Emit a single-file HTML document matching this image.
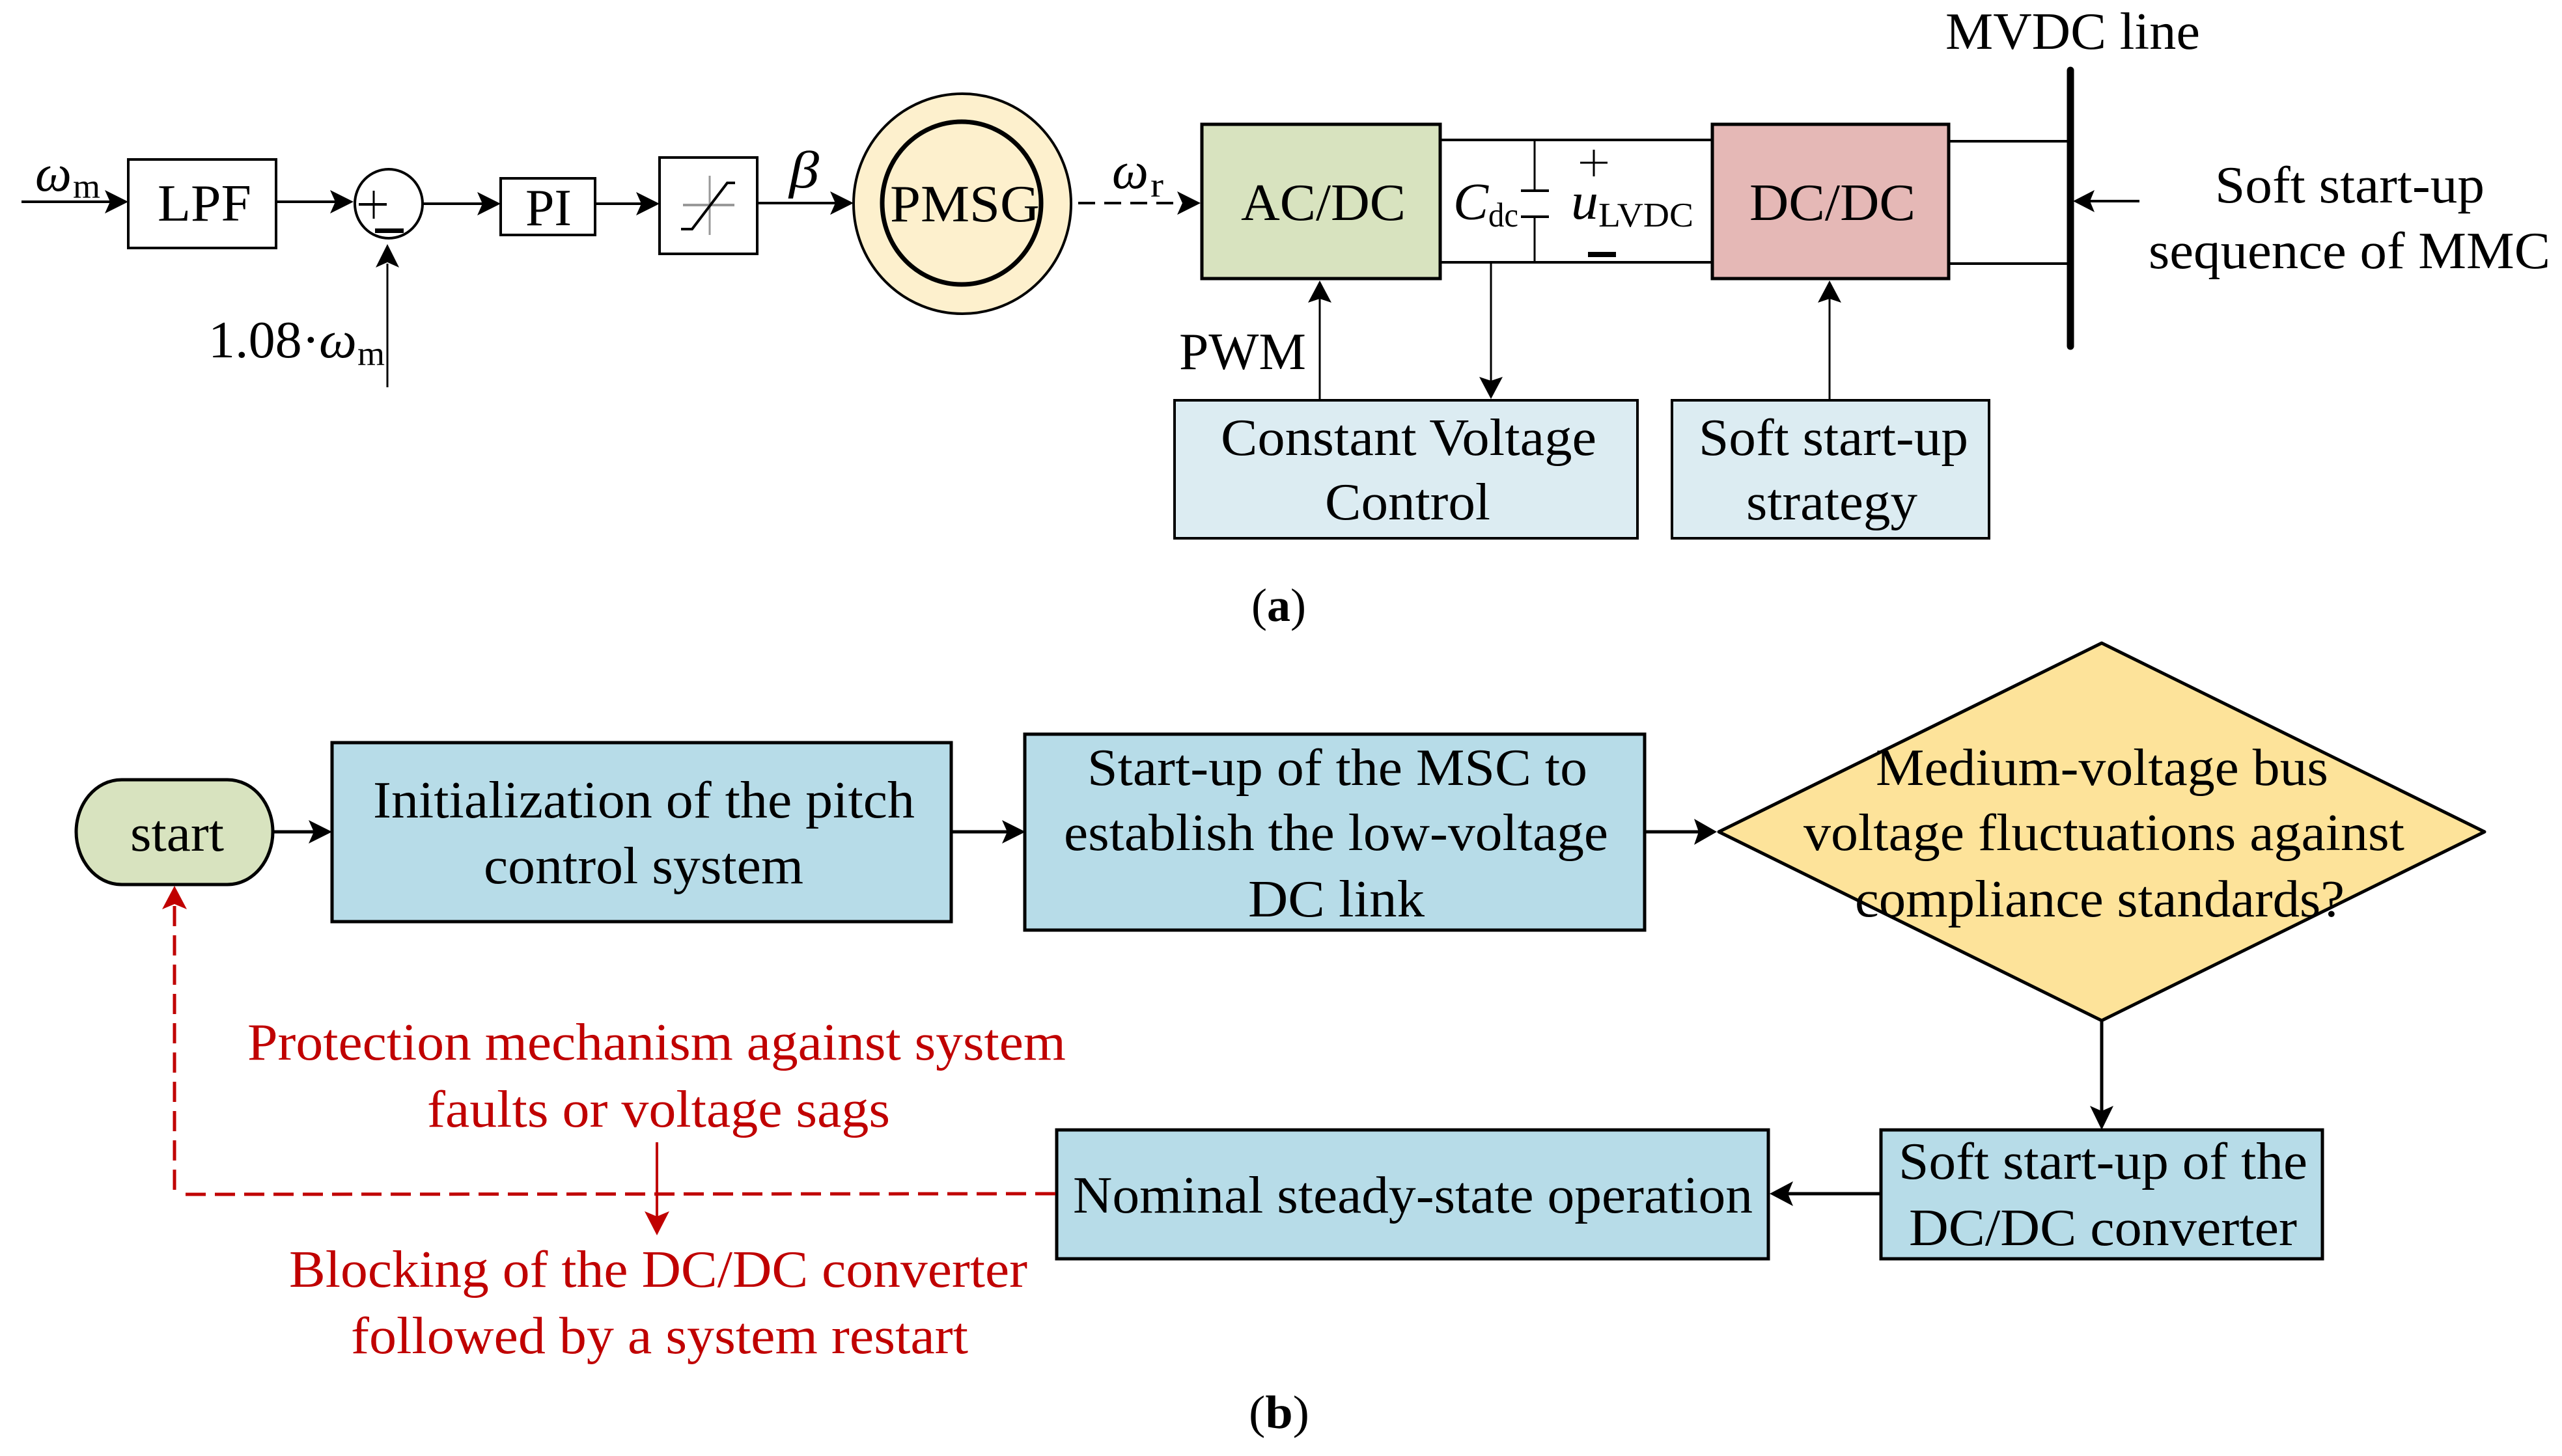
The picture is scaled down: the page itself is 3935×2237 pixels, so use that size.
<!DOCTYPE html>
<html>
<head>
<meta charset="utf-8">
<style>
html,body{margin:0;padding:0;background:#fff;}
svg{display:block;}
text{font-family:"Liberation Serif",serif;font-size:80px;fill:#000;}
.i{font-style:italic;}
.s{font-size:53px;}
.r{fill:#c00000;}
.b{fill:none;stroke:#000;stroke-width:4;}
.t{fill:none;stroke:#000;stroke-width:3;}
</style>
</head>
<body>
<svg xmlns="http://www.w3.org/2000/svg" width="3935" height="2237" viewBox="0 0 3935 2237">
<rect width="3935" height="2237" fill="#fff"/>

<!-- Part (a) shapes -->
<rect x="197" y="245" width="227" height="136" fill="#fff" stroke="#000" stroke-width="4"/>
<ellipse cx="597" cy="313" rx="52" ry="53" fill="#fff" stroke="#000" stroke-width="4"/>
<rect x="769" y="274" width="145" height="87" fill="#fff" stroke="#000" stroke-width="4"/>
<rect x="1013" y="242" width="150" height="148" fill="#fff" stroke="#000" stroke-width="4"/>
<line x1="574" y1="293" x2="574" y2="336" class="t"/>
<line x1="551" y1="314" x2="594" y2="314" stroke="#000" stroke-width="4"/>
<rect x="576" y="351" width="44" height="7" fill="#000"/>
<line x1="1090" y1="270" x2="1090" y2="361" stroke="#999" stroke-width="3"/>
<line x1="1049" y1="315" x2="1128" y2="315" stroke="#999" stroke-width="4"/>
<polyline points="1046,352 1063,352 1117,281 1129,281" fill="none" stroke="#000" stroke-width="4"/>

<ellipse cx="1478" cy="313" rx="167" ry="169" fill="#fdf0cd" stroke="#000" stroke-width="4"/>
<ellipse cx="1477" cy="312" rx="122" ry="125" fill="#fdf0cd" stroke="#000" stroke-width="7"/>

<line x1="2212" y1="215" x2="2630" y2="215" class="b"/>
<line x1="2212" y1="403" x2="2630" y2="403" class="b"/>
<line x1="2357" y1="215" x2="2357" y2="293" class="t"/>
<line x1="2357" y1="333" x2="2357" y2="403" class="t"/>
<line x1="2336" y1="293" x2="2379" y2="293" class="b"/>
<line x1="2336" y1="333" x2="2379" y2="333" class="b"/>
<line x1="2448" y1="230" x2="2448" y2="271" class="t"/>
<line x1="2427" y1="250" x2="2469" y2="250" class="t"/>
<rect x="2439" y="387" width="43" height="8" fill="#000"/>

<rect x="1846" y="191" width="366" height="237" fill="#d8e3bf" stroke="#000" stroke-width="5"/>
<rect x="2630" y="191" width="363" height="237" fill="#e5b8b6" stroke="#000" stroke-width="5"/>
<line x1="2993" y1="217" x2="3180" y2="217" class="b"/>
<line x1="2993" y1="405" x2="3180" y2="405" class="b"/>
<line x1="3180" y1="108" x2="3180" y2="532" stroke="#000" stroke-width="11" stroke-linecap="round"/>

<rect x="1804" y="615" width="711" height="212" fill="#dcecf2" stroke="#000" stroke-width="4"/>
<rect x="2568" y="615" width="487" height="212" fill="#dcecf2" stroke="#000" stroke-width="4"/>

<!-- Part (a) connectors -->
<line x1="33" y1="310" x2="180" y2="310" class="b"/><polygon points="197,310 161,292 169,310 161,328"/>
<line x1="424" y1="310" x2="525" y2="310" class="b"/><polygon points="543,310 507,292 515,310 507,328"/>
<line x1="650" y1="313" x2="750" y2="313" class="b"/><polygon points="769,313 733,295 741,313 733,331"/>
<line x1="916" y1="313" x2="995" y2="313" class="b"/><polygon points="1013,313 977,295 985,313 977,331"/>
<line x1="1163" y1="312" x2="1295" y2="312" class="b"/><polygon points="1311,312 1275,294 1283,312 1275,330"/>
<line x1="595" y1="595" x2="595" y2="405" class="t"/><polygon points="595,375 577,411 595,403 613,411"/>
<line x1="1656" y1="312" x2="1820" y2="312" stroke="#000" stroke-width="4" stroke-dasharray="26 14"/><polygon points="1844,312 1808,294 1816,312 1808,330"/>
<line x1="2027" y1="615" x2="2027" y2="455" class="t"/><polygon points="2027,431 2009,465 2027,459 2045,465"/>
<line x1="2290" y1="403" x2="2290" y2="590" class="t"/><polygon points="2290,613 2272,579 2290,585 2308,579"/>
<line x1="2810" y1="615" x2="2810" y2="455" class="t"/><polygon points="2810,431 2792,465 2810,459 2828,465"/>
<line x1="3286" y1="309" x2="3205" y2="309" class="b"/><polygon points="3184,309 3217,292 3210,309 3217,326"/>

<!-- Part (a) text -->
<text class="i" x="54" y="293" textLength="56" lengthAdjust="spacingAndGlyphs">ω</text>
<text class="s" x="112" y="304" textLength="42" lengthAdjust="spacingAndGlyphs">m</text>
<text x="242" y="339" textLength="144" lengthAdjust="spacingAndGlyphs">LPF</text>
<text x="807" y="346" textLength="71" lengthAdjust="spacingAndGlyphs">PI</text>
<text class="i" x="1212" y="288" textLength="46" lengthAdjust="spacingAndGlyphs">β</text>
<text x="320" y="549" textLength="171" lengthAdjust="spacingAndGlyphs">1.08·</text>
<text class="i" x="490" y="549" textLength="58" lengthAdjust="spacingAndGlyphs">ω</text>
<text class="s" x="549" y="561" textLength="42" lengthAdjust="spacingAndGlyphs">m</text>
<text x="1367" y="340" textLength="230" lengthAdjust="spacingAndGlyphs">PMSG</text>
<text class="i" x="1708" y="289" textLength="56" lengthAdjust="spacingAndGlyphs">ω</text>
<text class="s" x="1767" y="302" textLength="20" lengthAdjust="spacingAndGlyphs">r</text>
<text x="1906" y="338" textLength="253" lengthAdjust="spacingAndGlyphs">AC/DC</text>
<text class="i" x="2232" y="337" textLength="54" lengthAdjust="spacingAndGlyphs">C</text>
<text class="s" x="2286" y="348" textLength="46" lengthAdjust="spacingAndGlyphs">dc</text>
<text class="i" x="2413" y="336" textLength="42" lengthAdjust="spacingAndGlyphs">u</text>
<text class="s" x="2455" y="348" textLength="146" lengthAdjust="spacingAndGlyphs">LVDC</text>
<text x="2687" y="338" textLength="255" lengthAdjust="spacingAndGlyphs">DC/DC</text>
<text x="2988" y="75" textLength="391" lengthAdjust="spacingAndGlyphs">MVDC line</text>
<text x="3402" y="311" textLength="414" lengthAdjust="spacingAndGlyphs">Soft start-up</text>
<text x="3300" y="412" textLength="617" lengthAdjust="spacingAndGlyphs">sequence of MMC</text>
<text x="1811" y="567" textLength="195" lengthAdjust="spacingAndGlyphs">PWM</text>
<text x="1875" y="699" textLength="577" lengthAdjust="spacingAndGlyphs">Constant Voltage</text>
<text x="2035" y="798" textLength="254" lengthAdjust="spacingAndGlyphs">Control</text>
<text x="2609" y="699" textLength="414" lengthAdjust="spacingAndGlyphs">Soft start-up</text>
<text x="2682" y="798" textLength="263" lengthAdjust="spacingAndGlyphs">strategy</text>
<text x="1922" y="954" style="font-size:72px" textLength="84" lengthAdjust="spacingAndGlyphs">(<tspan font-weight="bold">a</tspan>)</text>

<!-- Part (b) shapes -->
<path d="M187,1198 H349 C390,1198 419,1236 419,1278 C419,1320 390,1359 349,1359 H187 C146,1359 117,1320 117,1278 C117,1236 146,1198 187,1198 Z" fill="#d8e3bf" stroke="#000" stroke-width="5"/>
<rect x="510" y="1141" width="951" height="275" fill="#b7dce8" stroke="#000" stroke-width="5"/>
<rect x="1574" y="1128" width="952" height="301" fill="#b7dce8" stroke="#000" stroke-width="5"/>
<polygon points="2640,1278 3228,988 3816,1278 3228,1568" fill="#fde39a" stroke="#000" stroke-width="5" stroke-linejoin="round"/>
<rect x="1623" y="1736" width="1093" height="198" fill="#b7dce8" stroke="#000" stroke-width="5"/>
<rect x="2889" y="1736" width="678" height="198" fill="#b7dce8" stroke="#000" stroke-width="5"/>

<!-- Part (b) connectors -->
<line x1="419" y1="1278" x2="490" y2="1278" stroke="#000" stroke-width="5"/><polygon points="510,1278 474,1260 482,1278 474,1296"/>
<line x1="1461" y1="1278" x2="1555" y2="1278" stroke="#000" stroke-width="5"/><polygon points="1575,1278 1539,1260 1547,1278 1539,1296"/>
<line x1="2526" y1="1278" x2="2615" y2="1278" stroke="#000" stroke-width="5"/><polygon points="2637,1278 2602,1258 2609,1278 2602,1298"/>
<line x1="3228" y1="1568" x2="3228" y2="1715" stroke="#000" stroke-width="5"/><polygon points="3228,1736 3210,1699 3228,1707 3246,1699"/>
<line x1="2889" y1="1834" x2="2740" y2="1834" stroke="#000" stroke-width="5"/><polygon points="2718,1834 2754,1815 2746,1834 2754,1853"/>
<line x1="1623" y1="1834" x2="285" y2="1835" stroke="#c00000" stroke-width="5" stroke-dasharray="31 14" stroke-dashoffset="-2"/>
<line x1="268" y1="1828" x2="268" y2="1385" stroke="#c00000" stroke-width="5" stroke-dasharray="31 14"/>
<polygon points="268,1361 249,1397 268,1389 287,1397" fill="#c00000"/>
<line x1="1009" y1="1755" x2="1009" y2="1875" stroke="#c00000" stroke-width="4"/>
<polygon points="1009,1898 990,1861 1009,1869 1028,1861" fill="#c00000"/>

<!-- Part (b) text -->
<text x="200" y="1307" textLength="144" lengthAdjust="spacingAndGlyphs">start</text>
<text x="573" y="1256" textLength="832" lengthAdjust="spacingAndGlyphs">Initialization of the pitch</text>
<text x="743" y="1357" textLength="491" lengthAdjust="spacingAndGlyphs">control system</text>
<text x="1670" y="1206" textLength="768" lengthAdjust="spacingAndGlyphs">Start-up of the MSC to</text>
<text x="1634" y="1306" textLength="836" lengthAdjust="spacingAndGlyphs">establish the low-voltage</text>
<text x="1917" y="1408" textLength="271" lengthAdjust="spacingAndGlyphs">DC link</text>
<text x="2881" y="1206" textLength="695" lengthAdjust="spacingAndGlyphs">Medium-voltage bus</text>
<text x="2770" y="1306" textLength="923" lengthAdjust="spacingAndGlyphs">voltage fluctuations against</text>
<text x="2849" y="1408" textLength="752" lengthAdjust="spacingAndGlyphs">compliance standards?</text>
<text x="1648" y="1863" textLength="1044" lengthAdjust="spacingAndGlyphs">Nominal steady-state operation</text>
<text x="2916" y="1811" textLength="628" lengthAdjust="spacingAndGlyphs">Soft start-up of the</text>
<text x="2932" y="1913" textLength="596" lengthAdjust="spacingAndGlyphs">DC/DC converter</text>
<text class="r" x="380" y="1628" textLength="1257" lengthAdjust="spacingAndGlyphs">Protection mechanism against system</text>
<text class="r" x="656" y="1731" textLength="711" lengthAdjust="spacingAndGlyphs">faults or voltage sags</text>
<text class="r" x="444" y="1977" textLength="1134" lengthAdjust="spacingAndGlyphs">Blocking of the DC/DC converter</text>
<text class="r" x="539" y="2079" textLength="948" lengthAdjust="spacingAndGlyphs">followed by a system restart</text>
<text x="1918" y="2194" style="font-size:72px" textLength="93" lengthAdjust="spacingAndGlyphs">(<tspan font-weight="bold">b</tspan>)</text>
</svg>
</body>
</html>
